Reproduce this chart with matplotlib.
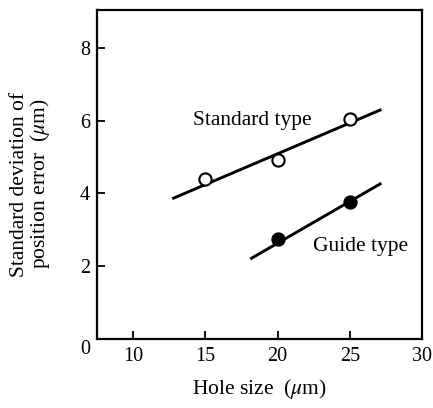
import matplotlib
matplotlib.use("Agg")
import matplotlib.pyplot as plt
from matplotlib.transforms import ScaledTranslation

plt.rcParams["font.family"] = ["Liberation Serif", "DejaVu Serif"]
plt.rcParams["mathtext.fontset"] = "stix"

# Measured points
std_hole = [15, 20, 25]
std_sigma = [4.39, 4.92, 6.04]
guide_hole = [20, 25]
guide_sigma = [2.74, 3.77]

# Trend lines (end points)
std_fit_x = [12.8, 27.1]
std_fit_y = [3.87, 6.29]
guide_fit_x = [18.2, 27.1]
guide_fit_y = [2.22, 4.26]

x_ticks = [10, 15, 20, 25, 30]
y_ticks = [0, 2, 4, 6, 8]

FS = 15.5

fig = plt.figure(figsize=(4.33, 4.08), dpi=100)
ax = fig.add_axes([0.224, 0.169, 0.7506, 0.8076])

ax.plot(std_fit_x, std_fit_y, color="black", lw=2.1, zorder=2)
ax.plot(guide_fit_x, guide_fit_y, color="black", lw=2.1, zorder=2)
ax.plot(std_hole, std_sigma, "o", ms=8.8, mfc="white", mec="black", mew=1.5, zorder=3)
ax.plot(guide_hole, guide_sigma, "o", ms=8.8, mfc="black", mec="black", mew=1.5, zorder=3)

ax.text(18.27, 5.88, "Standard type", fontsize=FS, ha="center", va="baseline")
ax.text(22.45, 2.42, "Guide type", fontsize=FS, ha="left", va="baseline")

ax.set_xlim(7.5, 30)
ax.set_ylim(0, 9.05)
ax.set_xticks(x_ticks)
ax.set_yticks(y_ticks)
ax.tick_params(direction="in", length=6, width=1.3, labelsize=14.5,
               top=False, right=False)
ax.tick_params(axis="y", pad=5)
ax.tick_params(axis="x", pad=6)

# the zero label sits a little below the corner
zero_lbl = ax.get_yticklabels()[0]
zero_lbl.set_transform(zero_lbl.get_transform()
                       + ScaledTranslation(0, -0.08, fig.dpi_scale_trans))

for s in ax.spines.values():
    s.set_linewidth(1.6)

ax.set_xlabel(r"Hole size  ($\mu$m)", fontsize=FS, labelpad=8)
ax.set_ylabel("Standard deviation of\n" + r"position error  ($\mu$m)",
              fontsize=FS, linespacing=0.95)
ax.yaxis.set_label_coords(-0.139, 0.47)

fig.savefig("out.png", dpi=100)
